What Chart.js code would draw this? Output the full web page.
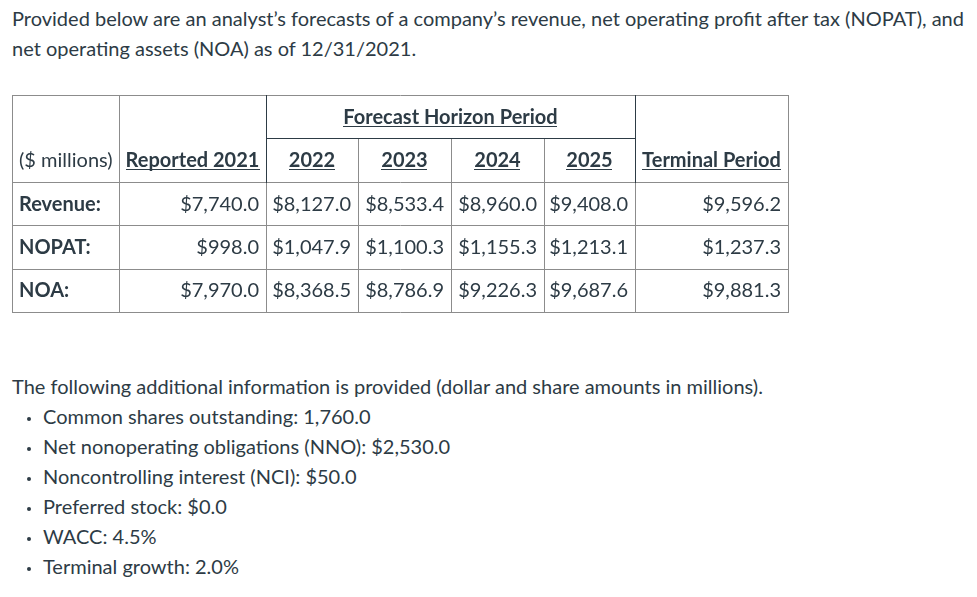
<!DOCTYPE html>
<html>
<head>
<meta charset="utf-8">
<script src="https://cdn.jsdelivr.net/npm/chart.js@4"></script>
<style>
    body { margin: 0; background: #fff; color: #2d3b45; font-family: Lato, "Noto Sans", sans-serif; font-size: 20px; line-height: 30px; }
    #intro { position: absolute; left: 12px; top: 3px; white-space: nowrap; }
    #table-box { position: absolute; left: 0; top: 90px; width: 977px; height: 230px; }
    #extra { position: absolute; left: 12px; top: 371px; white-space: nowrap; }
    #extra ul { margin: 0; padding-left: 31px; list-style: none; }
    #extra li { position: relative; }
    #extra li::before { content: ''; position: absolute; left: -16px; top: 16px; width: 4px; height: 4px; border-radius: 50%; background: #2d3b45; }
</style>
</head>
<body>
<div id="intro">Provided below are an analyst’s forecasts of a company’s revenue, net operating profit after tax (NOPAT), and<br>net operating assets (NOA) as of 12/31/2021.</div>
<div id="table-box"><canvas id="tableChart" width="977" height="230"></canvas></div>
<div id="extra">
    The following additional information is provided (dollar and share amounts in millions).
    <ul>
        <li>Common shares outstanding: 1,760.0</li>
        <li>Net nonoperating obligations (NNO): $2,530.0</li>
        <li>Noncontrolling interest (NCI): $50.0</li>
        <li>Preferred stock: $0.0</li>
        <li>WACC: 4.5%</li>
        <li>Terminal growth: 2.0%</li>
    </ul>
</div>
<script>
// table data
const unitLabel = '($ millions)';
const groupLabel = 'Forecast Horizon Period';
const periods = ['Reported 2021', '2022', '2023', '2024', '2025', 'Terminal Period'];
const rowLabels = ['Revenue:', 'NOPAT:', 'NOA:'];
const revenue = [7740.0, 8127.0, 8533.4, 8960.0, 9408.0, 9596.2];
const nopat = [998.0, 1047.9, 1100.3, 1155.3, 1213.1, 1237.3];
const noa = [7970.0, 8368.5, 8786.9, 9226.3, 9687.6, 9881.3];

// layout: column widths in table units, 2 header rows + 3 data rows
const colWidths = [107, 147, 92, 93, 93, 91, 153];
const colEdges = [0];
colWidths.forEach(w => colEdges.push(colEdges[colEdges.length - 1] + w));
const tableWidth = colEdges[colEdges.length - 1];
const rowCount = 5;

const gridColor = '#8c8c8c';
const darkColor = '#2d3b45';
const textColor = '#2d3b45';
const fontFamily = 'Lato, "Noto Sans", sans-serif';

function fmt(v) {
    return '$' + v.toLocaleString('en-US', { minimumFractionDigits: 1, maximumFractionDigits: 1 });
}

const series = [revenue, nopat, noa];

// one point per value cell, centred in its cell
const cellPoints = [];
series.forEach((vals, r) => {
    vals.forEach((v, c) => {
        cellPoints.push({ x: (colEdges[c + 1] + colEdges[c + 2]) / 2, y: r + 2.5, v: v, col: c + 1 });
    });
});

const tablePlugin = {
    id: 'tableCells',
    afterDatasetsDraw(chart) {
        const ctx = chart.ctx;
        const xs = chart.scales.x;
        const ys = chart.scales.y;
        const px = v => Math.round(xs.getPixelForValue(v)) + 0.5;
        const py = v => Math.round(ys.getPixelForValue(v)) + 0.5;

        function hline(y, x0, x1, color) {
            ctx.strokeStyle = color;
            ctx.beginPath();
            ctx.moveTo(px(x0) - 0.5, py(y));
            ctx.lineTo(px(x1) + 0.5, py(y));
            ctx.stroke();
        }
        function vline(x, y0, y1, color) {
            ctx.strokeStyle = color;
            ctx.beginPath();
            ctx.moveTo(px(x), py(y0) - 0.5);
            ctx.lineTo(px(x), py(y1) + 0.5);
            ctx.stroke();
        }

        ctx.save();
        ctx.lineWidth = 1;

        // outer border and body rows
        hline(0, 0, tableWidth, gridColor);
        for (let r = 2; r <= rowCount; r++) hline(r, 0, tableWidth, gridColor);
        vline(0, 0, rowCount, gridColor);
        vline(tableWidth, 0, rowCount, gridColor);
        vline(colEdges[1], 0, rowCount, gridColor);
        for (let c = 2; c < colEdges.length - 1; c++) {
            vline(colEdges[c], 2, rowCount, gridColor);
        }
        for (let c = 3; c < colEdges.length - 2; c++) {
            vline(colEdges[c], 1, 2, gridColor);
        }
        // forecast group frame
        hline(1, colEdges[2], colEdges[6], darkColor);
        vline(colEdges[2], 0, 2, darkColor);
        vline(colEdges[6], 0, 2, darkColor);

        ctx.fillStyle = textColor;
        const baseline = row => ys.getPixelForValue(row + 0.5) + 7;

        function text(str, x, y, align, bold, underline) {
            ctx.font = (bold ? 'bold ' : '') + '20px ' + fontFamily;
            ctx.textAlign = align;
            ctx.textBaseline = 'alphabetic';
            ctx.fillText(str, x, y);
            if (underline) {
                const w = ctx.measureText(str).width;
                let x0 = x;
                if (align === 'center') x0 = x - w / 2;
                if (align === 'right') x0 = x - w;
                ctx.fillRect(Math.round(x0), Math.round(y) + 2, Math.round(w), 1);
            }
        }

        // headers
        text(groupLabel, xs.getPixelForValue((colEdges[2] + colEdges[6]) / 2), baseline(0), 'center', true, true);
        text(unitLabel, xs.getPixelForValue(colEdges[0]) + 7, baseline(1), 'left', false, false);
        periods.forEach((p, i) => {
            const cx = xs.getPixelForValue((colEdges[i + 1] + colEdges[i + 2]) / 2);
            text(p, cx, baseline(1), 'center', true, true);
        });

        // row labels
        rowLabels.forEach((l, r) => {
            text(l, xs.getPixelForValue(colEdges[0]) + 7, baseline(r + 2), 'left', true, false);
        });

        // values, right aligned in each cell
        const meta = chart.getDatasetMeta(0);
        meta.data.forEach((pt, i) => {
            const d = cellPoints[i];
            const right = xs.getPixelForValue(colEdges[d.col + 1]) - 7;
            text(fmt(d.v), right, pt.y + 7, 'right', false, false);
        });
        ctx.restore();
    }
};

new Chart(document.getElementById('tableChart'), {
    type: 'scatter',
    data: {
        datasets: [{
            data: cellPoints,
            pointRadius: 0,
            pointHoverRadius: 0
        }]
    },
    options: {
        responsive: false,
        animation: false,
        events: [],
        layout: { padding: { left: 12, right: 977 - 12 - 776, top: 5, bottom: 8 } },
        scales: {
            x: { type: 'linear', min: 0, max: tableWidth, display: false },
            y: { type: 'linear', min: 0, max: rowCount, reverse: true, display: false }
        },
        plugins: {
            legend: { display: false },
            tooltip: { enabled: false }
        }
    },
    plugins: [tablePlugin]
});
</script>
</body>
</html>
